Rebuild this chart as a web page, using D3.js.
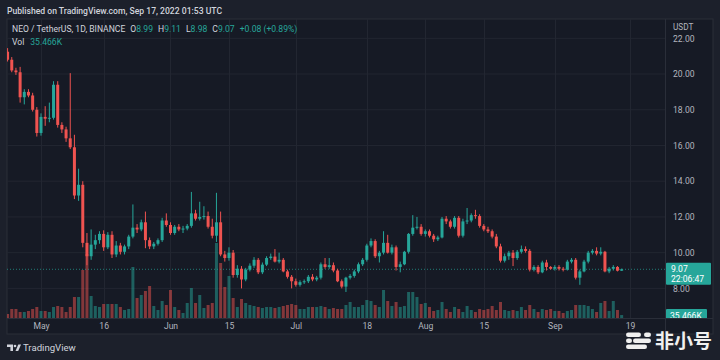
<!DOCTYPE html>
<html><head><meta charset="utf-8">
<script src="https://cdn.jsdelivr.net/npm/d3@7"></script>
<style>
html,body{margin:0;padding:0;background:#1c202b;}
svg{display:block;font-family:Roboto,"Noto Sans",sans-serif;}
</style>
</head><body>
<svg id="chart" width="720" height="360"></svg>
<script>
// ---------- DATA (NEO / TetherUS, 1D, BINANCE) ----------
const startDate = "2022-04-23";
const openP = [21.25,20.8,20.2,20.1,18.7,19.0,18.8,18.0,16.7,17.6,17.5,17.55,19.4,17.15,16.9,16.4,15.9,13.2,13.8,10.55,
9.8,10.45,10.7,11.05,10.3,11.0,9.9,10.4,10.05,10.35,10.9,11.4,11.3,11.7,10.7,10.35,10.5,10.7,11.8,11.55,
11.1,11.45,11.3,11.35,11.5,12.2,11.9,12.0,12.05,11.45,10.95,11.7,9.9,9.7,10.0,8.75,9.1,8.5,9.05,9.27,
9.6,8.9,9.33,9.7,9.78,9.5,9.6,8.95,8.65,8.4,8.2,8.35,8.4,8.65,8.5,8.6,9.35,9.2,9.3,9.0,
8.4,8.1,8.6,8.7,8.95,9.35,9.6,10.4,10.65,9.8,10.0,10.55,10.0,10.3,9.2,9.35,10.05,11.05,11.4,11.45,
11.05,11.2,10.95,10.75,10.85,11.9,11.75,11.45,11.95,10.95,11.75,11.8,12.1,12.05,11.5,11.3,11.2,10.9,10.35,9.55,
9.8,10.0,9.7,10.05,10.2,10.1,9.05,9.2,8.9,9.45,9.2,9.1,9.2,9.1,9.05,9.5,9.6,8.6,8.95,9.5,
10.0,10.1,9.95,10.05,8.95,9.1,9.2,8.99];
const highP = [21.45,20.95,20.35,20.4,19.15,19.15,18.95,18.15,17.8,18.2,18.4,19.6,19.6,17.3,17.05,20.05,16.6,14.7,14.0,11.1,
11.3,11.0,11.2,11.25,11.15,11.2,10.65,10.55,10.45,11.0,12.7,11.6,11.85,12.3,10.85,10.6,10.8,11.95,12.2,11.7,
11.55,11.6,11.5,11.6,13.4,12.4,12.85,12.6,12.3,11.9,13.35,12.3,10.1,10.3,10.15,9.3,9.25,9.15,9.4,9.75,
9.7,9.45,9.8,9.95,10.2,10.0,9.7,9.05,8.75,8.55,8.45,8.5,8.75,8.8,8.7,9.45,9.7,9.7,9.45,9.1,
8.5,8.65,8.8,9.05,9.45,9.7,10.5,10.8,10.75,10.1,11.2,11.0,10.45,10.4,9.5,10.1,11.1,12.1,12.0,11.6,
11.3,11.3,11.05,10.95,12.0,12.05,11.85,12.05,12.05,11.9,12.5,12.2,12.4,12.15,11.6,11.45,11.3,11.05,10.5,9.95,
10.1,10.15,10.15,10.4,10.35,10.2,9.3,9.3,9.55,9.6,9.25,9.3,9.3,9.2,9.6,9.7,9.7,9.05,9.6,10.1,
10.2,10.3,10.3,10.1,9.2,9.3,9.25,9.11];
const lowP = [20.7,20.1,19.95,18.4,18.3,18.7,17.9,16.5,16.55,17.1,17.3,17.45,17.0,16.7,16.2,15.8,13.0,12.9,10.3,9.3,
9.6,10.2,10.5,10.1,10.2,9.7,9.75,9.9,9.9,10.2,10.8,11.1,11.2,10.25,10.2,10.2,10.4,10.6,11.45,11.0,
11.0,11.2,11.1,11.25,11.4,11.8,11.8,11.85,11.35,10.8,10.6,9.8,9.5,9.55,8.6,8.6,8.0,8.4,8.95,9.15,
8.8,8.8,9.25,9.6,9.45,9.4,8.9,8.55,8.0,8.1,8.1,8.25,8.3,8.4,8.4,8.5,9.1,9.1,8.9,8.35,
8.0,7.8,8.5,8.6,8.85,9.25,9.5,10.3,9.7,9.45,9.9,9.95,9.9,9.0,8.9,9.3,9.95,10.95,11.3,10.95,
10.9,10.85,10.6,10.65,10.8,11.6,11.35,11.35,10.85,10.85,11.6,11.7,11.9,11.4,11.2,11.1,10.8,10.25,9.45,9.45,
9.6,9.25,9.6,9.95,10.0,8.95,8.95,8.8,8.85,9.0,9.05,9.0,9.0,8.95,9.0,9.4,8.5,8.2,8.9,9.4,
9.9,9.85,9.85,8.9,8.85,9.0,8.95,8.98];
const closeP = [20.8,20.2,20.1,18.7,19.0,18.8,18.0,16.7,17.6,17.5,17.55,19.4,17.15,16.9,16.4,15.9,13.2,13.8,10.55,9.8,
10.45,10.7,11.05,10.3,11.0,9.9,10.4,10.05,10.35,10.9,11.4,11.3,11.7,10.7,10.35,10.5,10.7,11.8,11.55,11.1,
11.45,11.3,11.35,11.5,12.2,11.9,12.0,12.05,11.45,10.95,11.7,9.9,9.7,10.0,8.75,9.1,8.5,9.05,9.27,9.6,
8.9,9.33,9.7,9.78,9.5,9.6,8.95,8.65,8.4,8.2,8.35,8.4,8.65,8.5,8.6,9.35,9.2,9.3,9.0,8.4,
8.1,8.6,8.7,8.95,9.35,9.6,10.4,10.65,9.8,10.0,10.55,10.0,10.3,9.2,9.35,10.05,11.05,11.4,11.45,11.05,
11.2,10.95,10.75,10.85,11.9,11.75,11.45,11.95,10.95,11.75,11.8,12.1,12.05,11.5,11.3,11.2,10.9,10.35,9.55,9.8,
10.0,9.7,10.05,10.2,10.1,9.05,9.2,8.9,9.45,9.2,9.1,9.2,9.1,9.05,9.5,9.6,8.6,8.95,9.5,10.0,
10.1,9.95,10.05,8.95,9.1,9.2,8.99,9.07];
// volume in thousands of NEO
const volumeK = [48,108,108,72,72,84,108,132,84,84,72,132,144,132,72,132,252,252,576,768,
264,144,132,168,168,168,168,132,96,108,612,240,276,324,384,144,96,204,156,336,
132,96,60,180,360,180,276,120,156,180,900,660,372,504,240,132,228,180,156,144,
132,120,132,132,120,132,144,156,168,156,108,108,132,132,132,144,132,108,120,108,
108,156,192,132,132,156,216,204,156,132,336,204,144,192,132,144,312,312,252,168,
180,132,84,96,192,108,72,132,108,72,144,96,72,108,96,108,144,96,192,96,
84,96,84,132,96,156,108,72,108,96,108,84,84,60,84,96,156,156,156,144,
108,72,180,204,84,204,96,35.466];
const priceTicks = [8,10,12,14,16,18,20,22];
const timeTickDates = ["2022-05-01","2022-05-16","2022-06-01","2022-06-15","2022-07-01","2022-07-18","2022-08-01","2022-08-15","2022-09-01","2022-09-19"];
const timeTickLabels = ["May","16","Jun","15","Jul","18","Aug","15","Sep","19"];
const lastPrice = 9.07;
const countdown = "22:06:47";
const lastVolLabel = "35.466K";

// ---------- LAYOUT ----------
const W = 720, H = 360;
const plot = {x0: 7, x1: 665, y0: 19, y1: 318};
const frameBottom = 334, frameRight = 713;
const UP = "#26a69a", DOWN = "#ef5350";
const TXT = "#b2b5be";
const parse = d3.timeParse("%Y-%m-%d");
const dates = closeP.map((_, i) => d3.timeDay.offset(parse(startDate), i));
const data = dates.map((d, i) => ({date: d, o: openP[i], h: highP[i], l: lowP[i], c: closeP[i], v: volumeK[i]}));

const x = d3.scaleTime().domain([parse("2022-05-01"), parse("2022-09-19")]).range([41, 630]);
const y = d3.scaleLinear().domain([8, 22]).range([288.4, 38.3]);
const yv = d3.scaleLinear().domain([0, 900]).range([plot.y1, 243]);

const svg = d3.select("#chart");
svg.append("rect").attr("width", W).attr("height", H).attr("fill", "#1c202b");

const defs = svg.append("defs");
defs.append("clipPath").attr("id", "plotClip").append("rect")
  .attr("x", plot.x0).attr("y", plot.y0).attr("width", plot.x1 - plot.x0).attr("height", plot.y1 - plot.y0);
defs.append("clipPath").attr("id", "axisClip").append("rect")
  .attr("x", plot.x1).attr("y", plot.y0).attr("width", frameRight - plot.x1).attr("height", plot.y1 - plot.y0);

// chart frame background
svg.append("rect").attr("x", plot.x0).attr("y", plot.y0).attr("width", frameRight - plot.x0).attr("height", frameBottom - plot.y0)
  .attr("fill", "#161a25").attr("stroke", "#2a2e39").attr("stroke-width", 1);

// header
svg.append("text").attr("x", 7).attr("y", 11).attr("dy", "0.35em")
  .attr("font-size", 8.6).attr("font-weight", 500).attr("fill", "#d1d4dc")
  .text("Published on TradingView.com, Sep 17, 2022 01:53 UTC");

// grid
const grid = svg.append("g").attr("clip-path", "url(#plotClip)");
grid.selectAll("line.h").data(priceTicks).join("line")
  .attr("x1", plot.x0).attr("x2", plot.x1).attr("y1", d => y(d)).attr("y2", d => y(d))
  .attr("stroke", "#222631").attr("stroke-width", 1);
grid.selectAll("line.v").data(timeTickDates).join("line")
  .attr("x1", d => Math.round(x(parse(d))) + 0.5).attr("x2", d => Math.round(x(parse(d))) + 0.5)
  .attr("y1", plot.y0).attr("y2", plot.y1)
  .attr("stroke", "#222631").attr("stroke-width", 1);

// volume
const g = svg.append("g").attr("clip-path", "url(#plotClip)");
const bw = 3;
g.selectAll("rect.vol").data(data).join("rect")
  .attr("x", d => x(d.date) - bw / 2).attr("width", bw)
  .attr("y", d => yv(d.v)).attr("height", d => yv(0) - yv(d.v))
  .attr("fill", d => d.c >= d.o ? UP : DOWN).attr("fill-opacity", 0.5);

// last price line
g.append("line").attr("x1", plot.x0).attr("x2", plot.x1)
  .attr("y1", y(lastPrice)).attr("y2", y(lastPrice))
  .attr("stroke", UP).attr("stroke-opacity", 0.7).attr("stroke-dasharray", "1,2");

// candles
const cg = g.selectAll("g.candle").data(data).join("g");
cg.append("line")
  .attr("x1", d => x(d.date)).attr("x2", d => x(d.date))
  .attr("y1", d => y(d.h)).attr("y2", d => y(d.l))
  .attr("stroke", d => d.c >= d.o ? UP : DOWN).attr("stroke-width", 1);
cg.append("rect")
  .attr("x", d => x(d.date) - bw / 2).attr("width", bw)
  .attr("y", d => y(Math.max(d.o, d.c)))
  .attr("height", d => Math.max(1, Math.abs(y(d.o) - y(d.c))))
  .attr("fill", d => d.c >= d.o ? UP : DOWN);

// price axis separator
svg.append("line").attr("x1", plot.x1 + 0.5).attr("x2", plot.x1 + 0.5).attr("y1", plot.y0).attr("y2", frameBottom)
  .attr("stroke", "#2a2e39");
// time axis separator
svg.append("line").attr("x1", plot.x0).attr("x2", frameRight).attr("y1", plot.y1 + 0.5).attr("y2", plot.y1 + 0.5)
  .attr("stroke", "#2a2e39");

// price axis
const ya = svg.append("g").attr("transform", `translate(${plot.x1 + 8},0)`)
  .call(d3.axisRight(y).tickValues(priceTicks).tickFormat(d3.format(".2f")).tickSize(0).tickPadding(0));
ya.select(".domain").remove();
ya.selectAll("text").attr("fill", TXT).attr("font-size", 8.6).attr("font-family", "Roboto,'Noto Sans',sans-serif");

// USDT label over top
svg.append("rect").attr("x", plot.x1 + 1).attr("y", plot.y0 + 1).attr("width", frameRight - plot.x1 - 2).attr("height", 13).attr("fill", "#161a25");
svg.append("text").attr("x", plot.x1 + 8).attr("y", 27).attr("dy", "0.35em").attr("font-size", 8.2).attr("fill", TXT).text("USDT");

// axis labels for last price and volume
const la = svg.append("g").attr("clip-path", "url(#axisClip)");
la.append("rect").attr("x", plot.x1 + 1).attr("y", y(lastPrice) - 6.5).attr("width", 45).attr("height", 22).attr("fill", UP).attr("rx", 1);
la.append("text").attr("x", plot.x1 + 6).attr("y", y(lastPrice)).attr("dy", "0.35em").attr("font-size", 8.6).attr("fill", "#ffffff").text(d3.format(".2f")(lastPrice));
la.append("text").attr("x", plot.x1 + 6).attr("y", y(lastPrice) + 9.5).attr("dy", "0.35em").attr("font-size", 8.6).attr("fill", "#ffffff").text(countdown);
const lastV = data[data.length - 1].v;
la.append("rect").attr("x", plot.x1 + 1).attr("y", yv(lastV) - 6).attr("width", 41).attr("height", 13).attr("fill", UP).attr("rx", 1);
la.append("text").attr("x", plot.x1 + 5).attr("y", yv(lastV) + 0.5).attr("dy", "0.35em").attr("font-size", 8.6).attr("fill", "#ffffff").text(lastVolLabel);

// time axis
const xa = svg.append("g").attr("transform", `translate(0,${plot.y1})`)
  .call(d3.axisBottom(x).tickValues(timeTickDates.map(parse)).tickFormat((d, i) => timeTickLabels[i]).tickSize(0).tickPadding(5));
xa.select(".domain").remove();
xa.selectAll("text").attr("fill", TXT).attr("font-size", 8.6).attr("font-family", "Roboto,'Noto Sans',sans-serif");

// legend
const lg = svg.append("text").attr("x", 12).attr("y", 29).attr("dy", "0.35em").attr("font-size", 8.6).attr("fill", "#d1d4dc");
lg.append("tspan").text("NEO / TetherUS, 1D, BINANCE");
const ohlc = [["O", "8.99"], ["H", "9.11"], ["L", "8.98"], ["C", "9.07"]];
ohlc.forEach(([k, v], i) => {
  lg.append("tspan").attr("dx", i === 0 ? 5 : 5).text(k);
  lg.append("tspan").attr("fill", UP).text(v);
});
lg.append("tspan").attr("dx", 5).attr("fill", UP).text("+0.08 (+0.89%)");
const vl = svg.append("text").attr("x", 12).attr("y", 42).attr("dy", "0.35em").attr("font-size", 8.6).attr("fill", "#d1d4dc");
vl.append("tspan").text("Vol");
vl.append("tspan").attr("dx", 6).attr("fill", UP).text(lastVolLabel);

// footer: TradingView logo
const logo = svg.append("g").attr("fill", "#d1d4dc");
logo.append("path").attr("d", "M7,344.5 h6 v6.5 h-2.6 v-4 h-3.4 z");
logo.append("circle").attr("cx", 15).attr("cy", 346).attr("r", 1.3);
logo.append("path").attr("d", "M15.5,351 L18.3,344.5 H21 L18.2,351 z");
svg.append("text").attr("x", 23).attr("y", 348).attr("dy", "0.35em").attr("font-size", 9.6).attr("fill", "#d1d4dc").text("TradingView");

// watermark
const wm = svg.append("g").attr("fill", "#f0f0f0");
[[626, 332.5, 15], [644, 332.5, 7], [626, 338.5, 6], [633, 338.5, 18], [626, 344.5, 21]].forEach(([a, b, w]) => {
  wm.append("rect").attr("x", a).attr("y", b).attr("width", w).attr("height", 4.5).attr("rx", 2.2);
});
svg.append("text").attr("x", 655).attr("y", 341).attr("dy", "0.35em").attr("font-size", 19).attr("font-weight", 700)
  .attr("font-family", "'Noto Sans CJK SC',sans-serif").attr("fill", "#f0f0f0").text("非小号");
</script>
</body></html>
